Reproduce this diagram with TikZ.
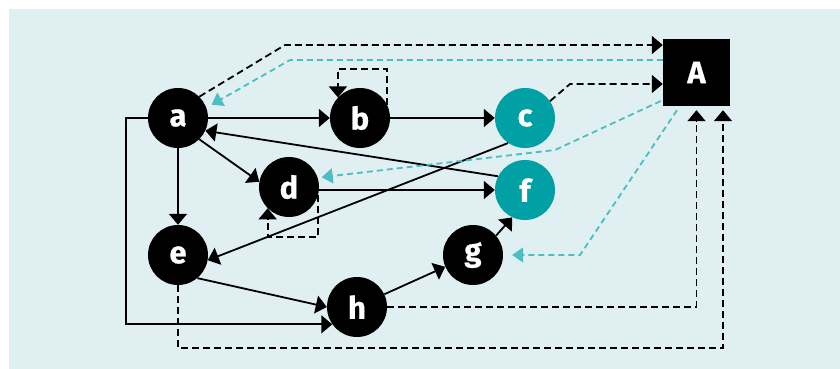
\documentclass[tikz,border=0pt]{standalone}
\usepackage{fontspec}
\setmainfont{Fira Sans}
\newfontfamily\nodefont{Fira Sans}[BoldFeatures={FakeBold=0.6}]
\usetikzlibrary{arrows.meta}
\definecolor{bgc}{HTML}{E0EFF2}
\definecolor{tealn}{HTML}{00A0A4}
\definecolor{teall}{HTML}{4BBEC2}
\begin{document}
\begin{tikzpicture}[x=1pt,y=-1pt,
  vert/.style={circle,fill=black,minimum size=60pt,inner sep=0pt,text=white,font=\nodefont\fontsize{31}{31}\selectfont\bfseries},
  tvert/.style={vert,fill=tealn},
  box/.style={rectangle,fill=black,minimum size=67pt,inner sep=0pt,text=white,font=\nodefont\fontsize{31}{31}\selectfont\bfseries},
  edge/.style={line width=1.8pt,-{Triangle[length=11pt,width=18pt]}},
  dedge/.style={edge,dash pattern=on 7pt off 4pt},
  tedge/.style={line width=1.8pt,teall,dash pattern=on 6pt off 4pt,-{Triangle[length=11pt,width=15pt]}}
]
\useasboundingbox (0,0) rectangle (840,369);
\fill[bgc] (9,9) rectangle (840,369);

\node[vert] (a) at (178,118) {a};
\node[vert] (b) at (360,118) {b};
\node[tvert] (c) at (525,118) {c};
\node[vert] (d) at (289,187) {d};
\node[tvert] (f) at (525,190) {f};
\node[vert] (e) at (178,255) {e};
\node[vert] (g) at (473,255) {g};
\node[vert] (h) at (357,307) {h};
\node[box] (A) at (696.5,72.5) {A};

% solid edges
\draw[edge] (a) -- (b);
\draw[edge] (b) -- (c);
\draw[edge] (a.-45) -- (d.170);
\draw[edge] (a) -- (e);
\draw[edge] (d.east |- f) -- (f);
\draw[edge] (f.153) -- (a.-25);
\draw[edge] (c.236) -- (e.-10);
\draw[edge] (e.-50) -- (h.west);
\draw[edge] (h.25) -- (g.203);
\draw[edge] (g.40) -- (f.245);
\draw[edge] (a.west) -- ++(-22,0) |- (h.215);

% self loops
\draw[dedge] (b.26) -- ++(0,-36) -| (b.137);
\draw[dedge] (d.-15) -- ++(0,42) -| (d.225);

% dashed black to A
\draw[dedge] (a.45) -- (285,45) -- ([yshift=27.5pt]A.west);
\draw[dedge] (c.34) -- (570,84) -- ([yshift=-11.5pt]A.west);
\draw[dedge,shorten >=4pt] (h.east) -| (A.south);
\draw[dedge,shorten >=4pt] (e.south) -- ++(0,63) -| ([xshift=26.5pt]A.south);

% teal dashed from A
\draw[tedge,shorten >=6pt] ([yshift=12.5pt]A.west) -- (290,60) -- (a.20);
\draw[tedge,shorten >=4pt] ([xshift=-2pt,yshift=-28.5pt]A.west) -- (555,150) -- (d.18);
\draw[tedge,shorten >=9pt] ([xshift=-19.5pt,yshift=-4pt]A.south) -- (580,255) -- (g.east);
\end{tikzpicture}
\end{document}
